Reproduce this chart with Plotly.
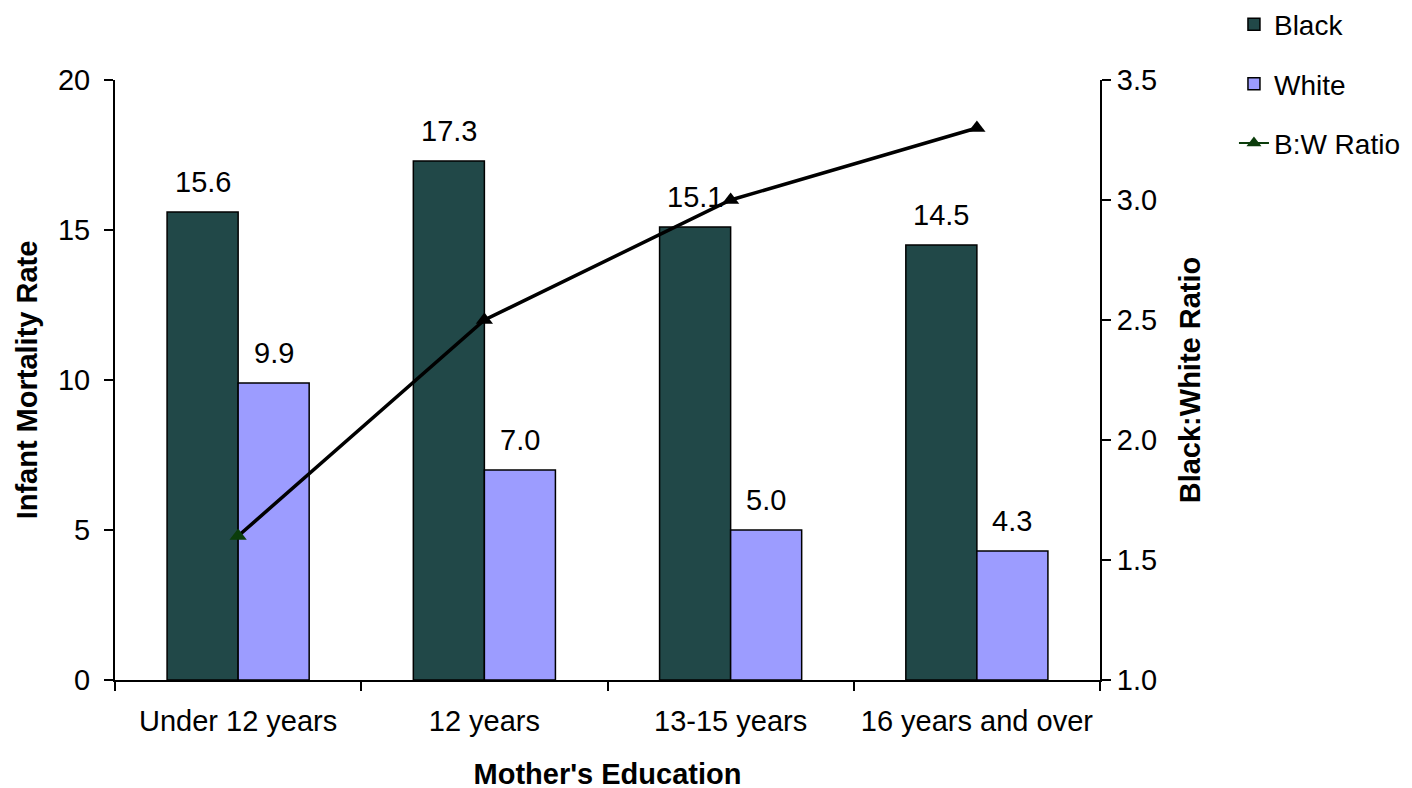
import plotly.graph_objects as go

categories = ["Under 12 years", "12 years", "13-15 years", "16 years and over"]
black_rate = [15.6, 17.3, 15.1, 14.5]
white_rate = [9.9, 7.0, 5.0, 4.3]
bw_ratio = [1.6, 2.5, 3.0, 3.3]
left_ticks = [0, 5, 10, 15, 20]
right_ticks = [1.0, 1.5, 2.0, 2.5, 3.0, 3.5]

FONT = "Liberation Sans, Arial, sans-serif"
TICK_SIZE = 29
TITLE_SIZE = 29

fig = go.Figure()
fig.add_trace(go.Bar(
    x=categories, y=black_rate, name="Black",
    marker=dict(color="#214848", line=dict(color="black", width=1.5)),
    legendgroup="a",
))
fig.add_trace(go.Bar(
    x=categories, y=white_rate, name="White",
    marker=dict(color="#9C9CFF", line=dict(color="black", width=1.5)),
    legendgroup="b",
))
fig.add_trace(go.Scatter(
    x=categories, y=bw_ratio, name="B:W Ratio", yaxis="y2",
    mode="lines+markers",
    line=dict(color="black", width=3.5),
    marker=dict(symbol="triangle-up", size=15,
                color=["#0B3D0B", "black", "black", "black"]),
    showlegend=False, cliponaxis=False,
))
fig.add_trace(go.Scatter(
    x=[None], y=[None], name="B:W Ratio", yaxis="y2",
    mode="lines+markers",
    line=dict(color="#0B3D0B", width=2),
    marker=dict(symbol="triangle-up", size=13, color="#0B3D0B"),
    legendgroup="c",
))

# data labels above each bar
ML, MR, MT, MB = 107, 320, 72, 116
plot_w = 1412 - ML - MR
bargap = 0.423
half_bar = plot_w / len(categories) * (1 - bargap) / 4
annotations = []
for cat, b, w in zip(categories, black_rate, white_rate):
    for val, sign in ((b, -1), (w, 1)):
        annotations.append(dict(
            x=cat, y=val, xref="x", yref="y", text=f"{val:.1f}",
            showarrow=False, xanchor="center", yanchor="bottom",
            xshift=sign * half_bar, yshift=12,
            font=dict(size=TICK_SIZE, family=FONT, color="black"),
        ))

fig.update_layout(
    width=1412, height=788,
    margin=dict(l=ML, r=MR, t=MT, b=MB, autoexpand=False),
    paper_bgcolor="white", plot_bgcolor="white",
    font=dict(family=FONT, size=TICK_SIZE, color="black"),
    barmode="group", bargap=bargap, bargroupgap=0,
    annotations=annotations,
    xaxis=dict(
        showline=True, linecolor="black", linewidth=2,
        ticks="outside", ticklen=9, tickwidth=2, tickcolor="black",
        tickson="boundaries", ticklabelstandoff=14,
        tickfont=dict(size=TICK_SIZE, family=FONT),
        title=dict(text="<b>Mother's Education</b>", font=dict(size=TITLE_SIZE, family=FONT), standoff=28),
    ),
    yaxis=dict(
        range=[0, 20], tickvals=left_ticks,
        showline=True, linecolor="black", linewidth=2,
        ticks="outside", ticklen=9, tickwidth=2, tickcolor="black",
        showgrid=False, zeroline=False, ticklabelstandoff=8,
        tickfont=dict(size=TICK_SIZE, family=FONT),
        title=dict(text="<b>Infant Mortality Rate</b>", font=dict(size=TITLE_SIZE, family=FONT), standoff=12),
    ),
    yaxis2=dict(
        range=[1.0, 3.5], tickvals=right_ticks, tickformat=".1f",
        overlaying="y", side="right",
        showline=True, linecolor="black", linewidth=2,
        ticks="outside", ticklen=9, tickwidth=2, tickcolor="black",
        showgrid=False, zeroline=False,
        tickfont=dict(size=TICK_SIZE, family=FONT),
        title=dict(text="<b>Black:White Ratio</b>", font=dict(size=TITLE_SIZE, family=FONT), standoff=24),
    ),
    legend=dict(
        x=1.136, y=1.134, xanchor="left", yanchor="top",
        font=dict(size=28, family=FONT),
        traceorder="grouped", tracegroupgap=20,
        bgcolor="rgba(0,0,0,0)",
    ),
)

fig.write_html("out.html")
